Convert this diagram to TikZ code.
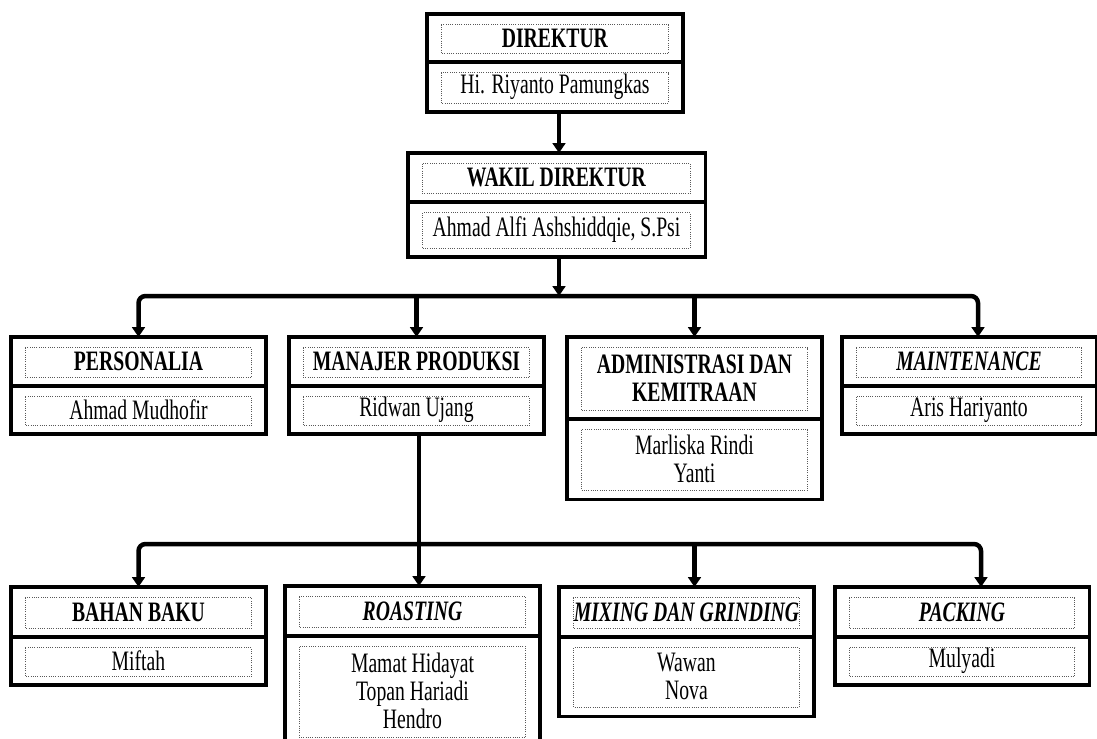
\documentclass[tikz,border=0pt]{standalone}
\usepackage{fontspec}
\setmainfont{Liberation Serif}[FakeStretch=0.70]
\usepackage{tikz}
\usetikzlibrary{arrows.meta}

\tikzset{
  part/.style={draw, line width=2.2pt, outer sep=0pt, inner sep=0pt, anchor=north,
    minimum width=#1, align=center, font=\fontsize{20}{20}\selectfont,
    path picture={\draw[densely dotted, black!65, line width=0.6pt]
      ([shift={(0.36cm,-0.27cm)}]path picture bounding box.north west) rectangle
      ([shift={(-0.36cm,0.22cm)}]path picture bounding box.south east);}},
  part/.default=6.375cm,
  link/.style={line width=3.2pt, -{Triangle[length=7pt,width=9pt]}},
  bus/.style={rounded corners=5pt}
}

\begin{document}
\begin{tikzpicture}[x=0.025cm, y=-0.025cm]
            \useasboundingbox (0,0) rectangle (1097,738);

            \node[part=6.4cm, minimum height=1.2cm] (dirhead) at (555,14) {\textbf{DIREKTUR}};
            \node[part=6.4cm, minimum height=1.25cm] (dirbody) at (dirhead.south) {Hi. Riyanto Pamungkas};
            \node[part=7.425cm, minimum height=1.225cm] (wakhead) at (556.5,153) {\textbf{WAKIL DIREKTUR}};
            \node[part=7.425cm, minimum height=1.375cm] (wakbody) at (wakhead.south) {Ahmad Alfi Ashshiddqie, S.Psi};

            \node[part, minimum height=1.225cm] (pershead) at (138.5,337) {\textbf{PERSONALIA}};
            \node[part, minimum height=1.2cm] (persbody) at (pershead.south) {Ahmad Mudhofir};
            \node[part, minimum height=1.225cm] (manhead) at (416.5,337) {\textbf{MANAJER PRODUKSI}};
            \node[part, minimum height=1.2cm] (manbody) at (manhead.south) {Ridwan Ujang};
            \node[part, minimum height=2.05cm] (admhead) at (694.5,337) {\textbf{ADMINISTRASI DAN}\\\textbf{KEMITRAAN}};
            \node[part, minimum height=2cm] (admbody) at (admhead.south) {Marliska Rindi\\Yanti};
            \node[part=6.35cm, minimum height=1.225cm] (mnthead) at (969,337) {\textbf{\textit{MAINTENANCE}}};
            \node[part=6.35cm, minimum height=1.2cm] (mntbody) at (mnthead.south) {Aris Hariyanto};

            \node[part, minimum height=1.25cm] (bahhead) at (138.5,587) {\textbf{BAHAN BAKU}};
            \node[part, minimum height=1.2cm] (bahbody) at (bahhead.south) {Miftah};
            \node[part, minimum height=1.25cm] (roshead) at (412.5,586) {\textbf{\textit{ROASTING}}};
            \node[part, minimum height=2.75cm] (rosbody) at (roshead.south) {Mamat Hidayat\\Topan Hariadi\\Hendro};
            \node[part, minimum height=1.25cm] (mixhead) at (686.5,587) {\textbf{\textit{MIXING DAN GRINDING}}};
            \node[part, minimum height=1.975cm] (mixbody) at (mixhead.south) {Wawan\\Nova};
            \node[part=6.35cm, minimum height=1.25cm] (pachead) at (962,587) {\textbf{\textit{PACKING}}};
            \node[part=6.35cm, minimum height=1.2cm] (pacbody) at (pachead.south) {Mulyadi};

            \coordinate (busA) at (559,296);
            \coordinate (busB) at (419,544);
            \coordinate (mntin) at ([xshift=0.225cm]mnthead.north);
            \coordinate (mixin) at ([xshift=0.2cm]mixhead.north);
            \coordinate (pacin) at ([xshift=0.475cm]pachead.north);

            \draw[link] (dirbody.south -| busA) -- (wakhead.north -| busA);
            \draw[link] (wakbody.south -| busA) -- (busA);
            \draw[link, bus] (busA) -| (pershead.north);
            \draw[link, bus] (busA) -| (mntin);
            \draw[link] (busA -| manhead.north) -- (manhead.north);
            \draw[link] (busA -| admhead.north) -- (admhead.north);

            \draw[line width=3.2pt] (manbody.south -| busB) -- (busB);
            \draw[link] (busB) -- (roshead.north -| busB);
            \draw[link, bus] (busB) -| (bahhead.north);
            \draw[link, bus] (busB) -| (pacin);
            \draw[link] (busB -| mixin) -- (mixin);
        \end{tikzpicture}
\end{document}
